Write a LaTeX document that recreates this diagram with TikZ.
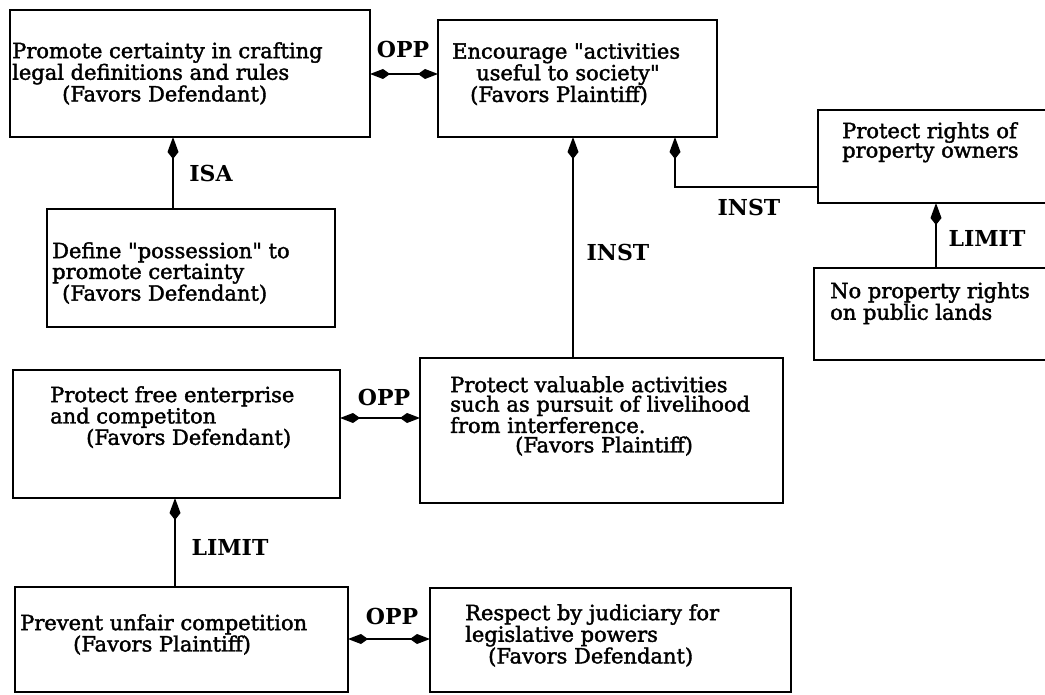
\documentclass[tikz,border=0pt]{standalone}
\usepackage{fontspec}
\newfontfamily\bodyfont{DejaVu Serif}[FakeBold=1.8]
\newfontfamily\relfont{DejaVu Serif Bold}
\usetikzlibrary{arrows.meta}
\begin{document}
\begin{tikzpicture}[x=1pt,y=-1pt,
  box/.style={draw, line width=2.4pt, anchor=north west, inner sep=0pt, outer sep=0pt},
  txt/.style={anchor=north west, inner sep=0pt, align=left,
              font=\bodyfont\fontsize{21}{19.5}\selectfont},
  lbl/.style={inner sep=0pt, font=\relfont\fontsize{22}{22}\selectfont},
  arr/.style={line width=1.8pt, -{Kite[length=22pt,width=11pt,inset=7pt]}},
  dbl/.style={line width=1.6pt,
              {Kite[length=20pt,width=10pt,inset=7pt]}-{Kite[length=20pt,width=10pt,inset=7pt]}}
]
\useasboundingbox (0,0) rectangle (1045,695);
\clip (0,0) rectangle (1045,695);

% boxes
\node[box, minimum width=360pt, minimum height=127pt] (A) at (10,10) {};
\node[box, minimum width=279pt, minimum height=117pt] (B) at (438,20) {};
\node[box, minimum width=240pt, minimum height=93pt]  (C) at (818,110) {};
\node[box, minimum width=240pt, minimum height=92pt]  (D) at (814,268) {};
\node[box, minimum width=288pt, minimum height=118pt] (E) at (47,209) {};
\node[box, minimum width=327pt, minimum height=128pt] (F) at (13,370) {};
\node[box, minimum width=363pt, minimum height=145pt] (G) at (420,358) {};
\node[box, minimum width=333pt, minimum height=105pt] (H) at (15,587) {};
\node[box, minimum width=361pt, minimum height=104pt] (I) at (430,588) {};

% box texts
\node[txt] (At) at (12,42) {Promote certainty in crafting\\legal definitions and rules\\\hspace*{50pt}(Favors Defendant)};
\node[txt] (Bt) at (452,43) {Encourage "activities\\\hspace*{24pt}useful to society"\\\hspace*{18pt}(Favors Plaintiff)};
\node[txt] (Ct) at (842,122) {Protect rights of\\property owners};
\node[txt] (Dt) at (830,282) {No property rights\\on public lands};
\node[txt] (Et) at (52,242) {Define "possession" to\\promote certainty\\\hspace*{10pt}(Favors Defendant)};
\node[txt] (Ft) at (50,386) {Protect free enterprise\\and competiton\\\hspace*{36pt}(Favors Defendant)};
\node[txt] (Gt) at (450,376) {Protect valuable activities\\such as pursuit of livelihood\\from interference.\\\hspace*{65pt}(Favors Plaintiff)};
\node[txt] (Ht) at (20,614) {Prevent unfair competition\\\hspace*{53pt}(Favors Plaintiff)};
\node[txt] (It) at (465,604) {Respect by judiciary for\\legislative powers\\\hspace*{23pt}(Favors Defendant)};

% connector positions
\coordinate (isaX) at (173,0);
\coordinate (instX) at (573,0);
\coordinate (elbow) at (675,187);
\coordinate (limX) at (936,0);
\coordinate (lim2X) at (175,0);
\coordinate (oppY) at (0,74);
\coordinate (opp2Y) at (0,418);
\coordinate (opp3Y) at (0,639);

% connectors
\draw[dbl] (A.east |- oppY) -- (B.west |- oppY);
\draw[arr] (isaX |- E.north) -- (isaX |- A.south);
\draw[arr] (instX |- G.north) -- (instX |- B.south);
\draw[arr] (elbow -| C.west) -- (elbow) -- (elbow |- B.south);
\draw[arr] (limX |- D.north) -- (limX |- C.south);
\draw[dbl] (F.east |- opp2Y) -- (G.west |- opp2Y);
\draw[arr] (lim2X |- H.north) -- (lim2X |- F.south);
\draw[dbl] (H.east |- opp3Y) -- (I.west |- opp3Y);

% relation labels
\node[lbl] (opp1) at (403,49) {OPP};
\node[lbl] (isa) at (211,173) {ISA};
\node[lbl] (inst1) at (749,207) {INST};
\node[lbl] (inst2) at (618,252) {INST};
\node[lbl] (lim1) at (987,238) {LIMIT};
\node[lbl] (opp2) at (384,397) {OPP};
\node[lbl] (lim2) at (230,547) {LIMIT};
\node[lbl] (opp3) at (392,616) {OPP};
\end{tikzpicture}
\end{document}
